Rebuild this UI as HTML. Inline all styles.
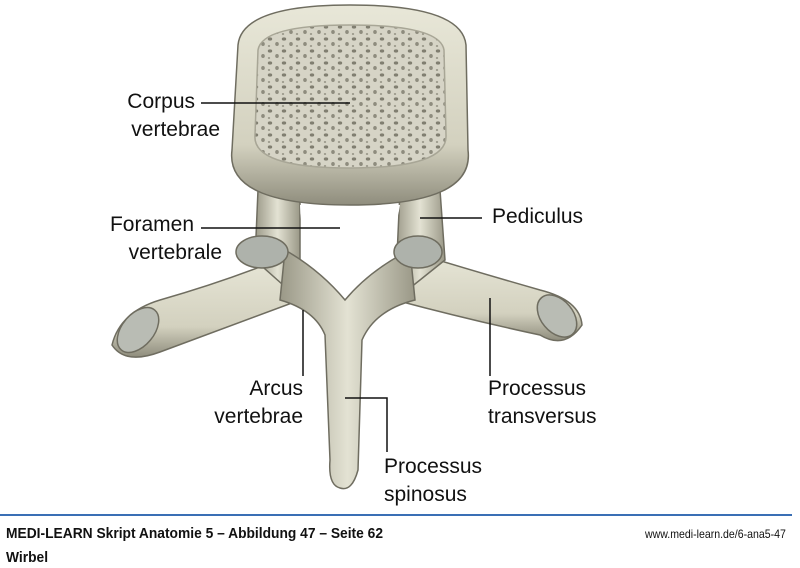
<!DOCTYPE html>
<html><head><meta charset="utf-8"><style>
body{margin:0;width:800px;height:568px;background:#fff;overflow:hidden;position:relative;font-family:"Liberation Sans",sans-serif}
svg{position:absolute;left:0;top:0}
.f{position:absolute;font-weight:bold;font-size:14px;color:#111;transform-origin:0 0;transform:scaleX(0.92);white-space:nowrap}
</style></head><body>
<svg width="800" height="568" viewBox="0 0 800 568">
<defs>
<linearGradient id="b" x1="0" y1="0" x2="0" y2="1"><stop offset="0" stop-color="#e8e7d8"/><stop offset="0.7" stop-color="#d3d1bf"/><stop offset="1" stop-color="#8f8d7d"/></linearGradient>
<linearGradient id="s" x1="0" y1="0" x2="1" y2="0"><stop offset="0" stop-color="#9a9887"/><stop offset="0.5" stop-color="#e3e2d3"/><stop offset="1" stop-color="#9a9887"/></linearGradient>
<pattern id="dots" width="14" height="12" patternUnits="userSpaceOnUse">
<rect width="14" height="12" fill="#d6d4c6"/>
<ellipse cx="4" cy="3" rx="2.2" ry="1.6" fill="#807e70"/>
<ellipse cx="11" cy="8" rx="1.8" ry="2" fill="#8e8c7e"/>
<ellipse cx="3" cy="10" rx="1.2" ry="1" fill="#9a988a"/>
</pattern>
</defs>
<g stroke="#6f6d60" stroke-width="1.5">
<path d="M290,255 Q230,280 160,300 Q120,312 112,345 Q125,365 160,352 Q220,330 300,300 Z" fill="url(#b)"/>
<path d="M405,250 Q470,270 540,290 Q580,300 582,325 Q565,350 540,335 Q470,320 395,300 Z" fill="url(#b)"/>
<ellipse cx="138" cy="330" rx="16" ry="26" transform="rotate(40 138 330)" fill="#b9bcb4"/>
<ellipse cx="557" cy="316" rx="16" ry="24" transform="rotate(-40 557 316)" fill="#b9bcb4"/>
<path d="M258,190 L300,190 L300,300 L255,260 Z" fill="url(#s)"/>
<path d="M400,190 L440,190 L445,260 L395,300 Z" fill="url(#s)"/>
<path d="M285,250 Q320,270 345,300 Q370,270 410,250 L415,300 Q375,310 362,340 L358,470 Q352,492 340,488 Q328,485 330,460 L325,335 Q315,310 280,300 Z" fill="url(#s)"/>
<path d="M300,205 Q345,195 400,205 Q395,240 370,255 Q350,270 345,295 Q338,265 320,255 Q300,240 300,205 Z" fill="#fff" stroke="none"/>
<path d="M238,45 Q242,5 350,5 Q462,5 466,45 L468,150 Q475,205 350,205 Q225,205 232,150 Z" fill="url(#b)"/>
<path d="M258,50 Q262,25 350,25 Q440,25 444,50 L446,135 Q448,168 350,168 Q252,168 255,135 Z" fill="url(#dots)" stroke="#a8a696"/>
<ellipse cx="262" cy="252" rx="26" ry="16" fill="#aeb2ab"/>
<ellipse cx="418" cy="252" rx="24" ry="16" fill="#aeb2ab"/>
</g>
<g stroke="#111" stroke-width="1.5" fill="none">
<path d="M201,103 H350"/><path d="M201,228 H340"/><path d="M420,218 H482"/>
<path d="M303,310 V376"/><path d="M490,298 V376"/><path d="M345,398 H387 V452"/>
</g>
<g font-family="Liberation Sans, sans-serif" font-size="21" fill="#111">
<text x="195" y="108" text-anchor="end">Corpus</text><text x="220" y="136" text-anchor="end">vertebrae</text>
<text x="194" y="231" text-anchor="end">Foramen</text><text x="222" y="259" text-anchor="end">vertebrale</text>
<text x="492" y="223">Pediculus</text>
<text x="303" y="395" text-anchor="end">Arcus</text><text x="303" y="423" text-anchor="end">vertebrae</text>
<text x="488" y="395">Processus</text><text x="488" y="423">transversus</text>
<text x="384" y="473">Processus</text><text x="384" y="501">spinosus</text>
</g>
<rect x="0" y="514" width="792" height="2" fill="#3a6fb5"/>
</svg>
<div class="f" style="left:6px;top:525px;font-size:15px">MEDI-LEARN Skript Anatomie 5 – Abbildung 47 – Seite 62</div>
<div class="f" style="left:645px;top:527px;font-weight:normal;font-size:12px;transform:scaleX(0.88)">www.medi-learn.de/6-ana5-47</div>
<div class="f" style="left:6px;top:549px;font-size:15px">Wirbel</div>
</body></html>
